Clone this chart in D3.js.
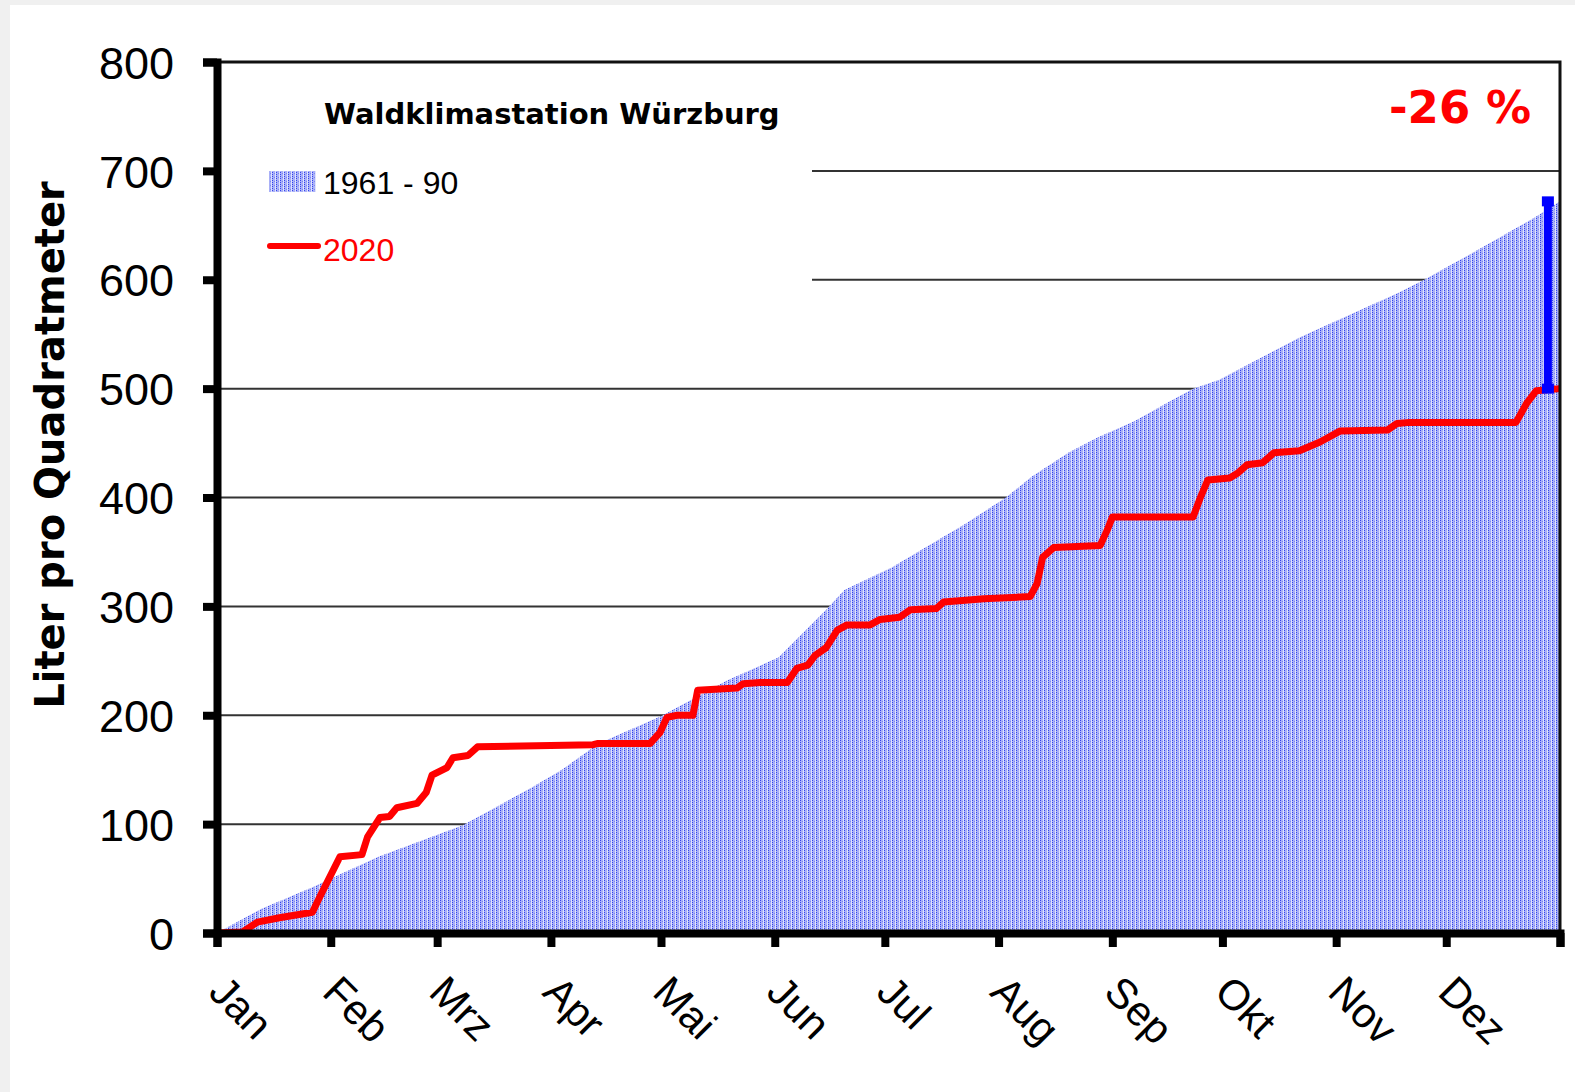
<!DOCTYPE html>
<html>
<head>
<meta charset="utf-8">
<script src="https://cdn.jsdelivr.net/npm/d3@7"></script>
<style>
  body { margin: 0; background: #f0f0f0; }
  svg { display: block; }
</style>
</head>
<body>
<div id="chart"></div>
<script>
// month labels and the day of year each month starts (2020 = leap year)
var months = ["Jan", "Feb", "Mrz", "Apr", "Mai", "Jun", "Jul", "Aug", "Sep", "Okt", "Nov", "Dez"];
var monthStart = [0, 31, 60, 91, 121, 152, 182, 213, 244, 274, 305, 335, 366];
var yTicks = [0, 100, 200, 300, 400, 500, 600, 700, 800];

// long term mean 1961 - 90, cumulative precipitation (day of year, l/m2)
var normalDays = [0, 12, 26, 33, 44, 67, 86, 94, 104, 121, 139, 153, 166, 171, 184, 195, 204, 215, 222, 232, 240, 250, 259, 266, 273, 295, 322, 329, 345, 359, 366];
var normalSum  = [0, 22, 42, 53, 70, 99, 134, 150, 174, 199, 232, 253, 297, 315, 336, 358, 376, 400, 419, 441, 455, 470, 487, 500, 508, 547, 588, 600, 630, 657, 672];

// 2020, cumulative precipitation (day of year, l/m2)
var rainDays = [0, 7, 11, 17, 26, 28, 33.5, 39.5, 41, 44.4, 47, 49, 54.5, 57, 58.6, 62.7, 64.3, 68.4, 71, 102.5, 103.6, 118, 120.7, 122.6, 125.4, 129.7, 131, 141.7, 143.4, 148, 155.4, 158, 161, 163, 166, 169, 171.7, 178, 180.7, 186, 189, 196, 198, 209, 221.6, 223.5, 225, 228, 240.7, 242.6, 244, 266, 268, 270, 276, 278, 280.7, 285, 288, 295, 300.6, 306, 319, 321.6, 325, 354, 357, 359.5, 366];
var rainSum  = [0, 1, 10, 14, 19, 33, 70, 72, 88, 106, 107, 115, 119, 129, 145, 152, 161, 163, 171, 173, 174, 174, 184, 198, 200, 200, 223, 225, 229, 230, 230, 243, 246, 255, 262, 278, 283, 283, 288, 290, 297, 298, 304, 307, 309, 321, 345, 354, 356, 370, 382, 382, 400, 416, 418, 422, 430, 432, 441, 443, 451, 461, 462, 468, 469, 469, 487, 498, 500];

// day where the difference bar is drawn
var diffDay = 362.7;

var width = 1575, height = 1092;

var svg = d3.select("#chart")
  .append("svg")
    .attr("width", width)
    .attr("height", height);

// white panel, grey page shows on the left/top edge
svg.append("rect")
  .attr("x", 10).attr("y", 5)
  .attr("width", width - 10).attr("height", height - 5)
  .attr("fill", "#fff");

var x = d3.scaleLinear().domain([0, 366]).range([217, 1560]);
var y = d3.scaleLinear().domain([0, 800]).range([933, 62]);

// dotted fill for the 1961-90 area
var defs = svg.append("defs");
var pat = defs.append("pattern")
  .attr("id", "dots")
  .attr("patternUnits", "userSpaceOnUse")
  .attr("width", 4).attr("height", 4);
pat.append("rect").attr("width", 4).attr("height", 4).attr("fill", "#a9b0f7");
pat.append("rect").attr("x", 0).attr("y", 0).attr("width", 1).attr("height", 1).attr("fill", "#3344ee");
pat.append("rect").attr("x", 0).attr("y", 2).attr("width", 1).attr("height", 1).attr("fill", "#3344ee");
pat.append("rect").attr("x", 2).attr("y", 1).attr("width", 1).attr("height", 1).attr("fill", "#7c86f5");
pat.append("rect").attr("x", 3).attr("y", 0).attr("width", 1).attr("height", 4).attr("fill", "#dfe2fd");

// gridlines
svg.append("g")
  .selectAll("line")
  .data(yTicks.slice(1, 8))
  .enter()
  .append("line")
    .attr("x1", x(0)).attr("x2", x(366))
    .attr("y1", function(d) { return y(d); })
    .attr("y2", function(d) { return y(d); })
    .attr("stroke", "#333")
    .attr("stroke-width", 2);

// legend box hides the gridlines behind it
svg.append("rect")
  .attr("x", 221).attr("y", 66)
  .attr("width", 591).attr("height", 234)
  .attr("fill", "#fff");

// 1961-90 area
var normal = normalDays.map(function(d, i) { return [d, normalSum[i]]; });
svg.append("path")
  .datum(normal)
  .attr("fill", "url(#dots)")
  .attr("d", d3.area()
    .x(function(d) { return x(d[0]); })
    .y0(y(0))
    .y1(function(d) { return y(d[1]); })
  );

// 2020 line
var rain = rainDays.map(function(d, i) { return [d, rainSum[i]]; });
svg.append("path")
  .datum(rain)
  .attr("fill", "none")
  .attr("stroke", "#ff0000")
  .attr("stroke-width", 7)
  .attr("stroke-linejoin", "round")
  .attr("d", d3.line()
    .x(function(d) { return x(d[0]); })
    .y(function(d) { return y(d[1]); })
  );

// difference bar
var diffTop = normalSum[normalSum.length - 1], diffBottom = rainSum[rainSum.length - 1];
svg.append("line")
  .attr("x1", x(diffDay)).attr("x2", x(diffDay))
  .attr("y1", y(diffTop)).attr("y2", y(diffBottom))
  .attr("stroke", "#0000ff")
  .attr("stroke-width", 8);
svg.selectAll("capmark")
  .data([diffTop, diffBottom])
  .enter()
  .append("rect")
    .attr("x", x(diffDay) - 6)
    .attr("y", function(d) { return y(d) - 5; })
    .attr("width", 12).attr("height", 10)
    .attr("fill", "#0000ff");

// frame top and right
svg.append("path")
  .attr("d", "M" + x(0) + "," + y(800) + "H" + x(366) + "V" + y(0))
  .attr("fill", "none")
  .attr("stroke", "#111")
  .attr("stroke-width", 3);

// y axis
var yAxis = svg.append("g")
  .attr("transform", "translate(" + x(0) + ",0)")
  .call(d3.axisLeft(y).tickValues(yTicks).tickSize(14).tickPadding(29).tickFormat(d3.format("d")));
yAxis.select(".domain").attr("stroke", "#000").attr("stroke-width", 8);
yAxis.selectAll(".tick line").attr("stroke", "#000").attr("stroke-width", 8);
yAxis.selectAll(".tick text")
  .attr("font-family", "'Liberation Sans', Arial, sans-serif")
  .attr("font-size", "45px")
  .attr("fill", "#000")
  .attr("dy", "0.36em");

// x axis
var xAxis = svg.append("g")
  .attr("transform", "translate(0," + y(0) + ")")
  .call(d3.axisBottom(x).tickValues(monthStart).tickSize(14).tickFormat(""));
xAxis.select(".domain").attr("stroke", "#000").attr("stroke-width", 8);
xAxis.selectAll(".tick line").attr("stroke", "#000").attr("stroke-width", 8);

svg.append("g")
  .selectAll("text")
  .data(months)
  .enter()
  .append("text")
    .text(function(d) { return d; })
    .attr("transform", function(d, i) { return "translate(" + (x(monthStart[i]) - 10) + ",994) rotate(45)"; })
    .attr("font-family", "'Liberation Sans', Arial, sans-serif")
    .attr("font-size", "42px")
    .attr("fill", "#000");

// y axis title
svg.append("text")
  .text("Liter pro Quadratmeter")
  .attr("transform", "translate(64,445) rotate(-90)")
  .attr("text-anchor", "middle")
  .attr("font-family", "'DejaVu Sans', sans-serif")
  .attr("font-weight", "bold")
  .attr("font-size", "40px")
  .attr("fill", "#000");

// station title
svg.append("text")
  .text("Waldklimastation Würzburg")
  .attr("x", 324).attr("y", 124)
  .attr("font-family", "'DejaVu Sans', sans-serif")
  .attr("font-weight", "bold")
  .attr("font-size", "29px")
  .attr("fill", "#000");

// percentage
svg.append("text")
  .text("-26 %")
  .attr("x", 1531).attr("y", 123)
  .attr("text-anchor", "end")
  .attr("font-family", "'DejaVu Sans', sans-serif")
  .attr("font-weight", "bold")
  .attr("font-size", "45px")
  .attr("fill", "#ff0000");

// legend
svg.append("rect")
  .attr("x", 269).attr("y", 171)
  .attr("width", 47).attr("height", 21)
  .attr("fill", "url(#dots)");
svg.append("text")
  .text("1961 - 90")
  .attr("x", 323).attr("y", 194)
  .attr("font-family", "'Liberation Sans', Arial, sans-serif")
  .attr("font-size", "32px")
  .attr("fill", "#000");
svg.append("line")
  .attr("x1", 270).attr("x2", 318)
  .attr("y1", 246).attr("y2", 246)
  .attr("stroke", "#ff0000")
  .attr("stroke-width", 6)
  .attr("stroke-linecap", "round");
svg.append("text")
  .text("2020")
  .attr("x", 323).attr("y", 261)
  .attr("font-family", "'Liberation Sans', Arial, sans-serif")
  .attr("font-size", "32px")
  .attr("fill", "#ff0000");
</script>
</body>
</html>
